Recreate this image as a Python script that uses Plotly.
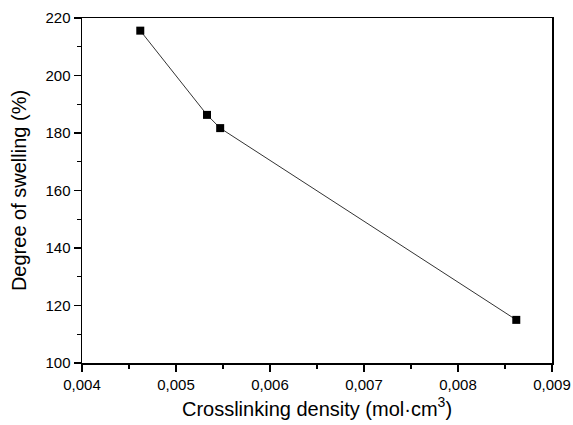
import plotly.graph_objects as go

crosslink_density = [0.00462, 0.00533, 0.00547, 0.00862]
degree_swelling = [215.6, 186.3, 181.7, 115.0]

x_ticks = [0.004, 0.005, 0.006, 0.007, 0.008, 0.009]
y_ticks = [100, 120, 140, 160, 180, 200, 220]

fig = go.Figure()
fig.add_trace(go.Scatter(
    x=crosslink_density, y=degree_swelling,
    mode="lines+markers",
    line=dict(color="#333333", width=1),
    marker=dict(symbol="square", size=8, color="black"),
    showlegend=False,
))

font = "Liberation Sans, Arial, sans-serif"
fig.update_layout(
    width=573, height=425,
    margin=dict(l=82, r=21, t=18, b=62),
    paper_bgcolor="white", plot_bgcolor="white",
    separators=",.",
    font=dict(family=font, color="black"),
)
fig.update_xaxes(
    range=[0.004, 0.009], tickvals=x_ticks, tickformat=".3f",
    automargin=False,
    showgrid=False, zeroline=False,
    showline=True, linecolor="black", linewidth=1.5, mirror=True,
    ticks="outside", ticklen=7, tickwidth=1.2, tickcolor="black",
    minor=dict(ticks="outside", ticklen=4, tickwidth=1.2, tickcolor="black", dtick=0.0005, showgrid=False),
    tickfont=dict(size=15),
    title=dict(text="Crosslinking density (mol·cm<sup>3</sup>)", font=dict(size=20), standoff=10),
)
fig.update_yaxes(
    range=[100, 220], tickvals=y_ticks,
    automargin=False,
    showgrid=False, zeroline=False,
    showline=True, linecolor="black", linewidth=1.5, mirror=True,
    ticks="outside", ticklen=7, tickwidth=1.2, tickcolor="black",
    minor=dict(ticks="outside", ticklen=4, tickwidth=1.2, tickcolor="black", dtick=10, showgrid=False),
    tickfont=dict(size=15),
    title=dict(text="Degree of swelling (%)", font=dict(size=20), standoff=13),
)

fig.write_html(
    "out.html",
    config={"displayModeBar": False, "staticPlot": True},
    post_script="document.body.style.margin='0';document.documentElement.style.overflow='hidden';",
)
